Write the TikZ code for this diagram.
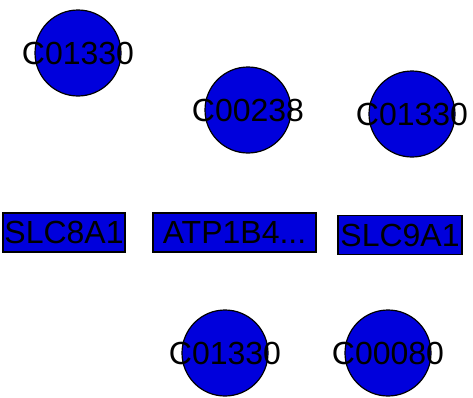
\documentclass[tikz,border=0pt]{standalone}
\usepackage{fontspec}
\setmainfont{Liberation Sans}
\definecolor{nodeblue}{RGB}{0,0,220}

\begin{document}
\begin{tikzpicture}[x=1pt,y=-1pt,
    cpd/.style={circle, draw, line width=1.2pt, fill=nodeblue, minimum size=86pt, inner sep=0pt},
    gene/.style={rectangle, draw, line width=1.2pt, fill=nodeblue, minimum height=39pt, inner sep=0pt},
    every label/.style={font=\fontsize{32}{36}\selectfont, inner sep=0pt},
    font=\fontsize{32}{36}\selectfont]
    \useasboundingbox (0,0) rectangle (473,397);

    % compounds
    \node[cpd, label={center:C01330}] (cpd1) at (78,53) {};
    \node[cpd, label={center:C00238}] (cpd2) at (248,110) {};
    \node[cpd, label={center:C01330}] (cpd3) at (412,114) {};
    \node[cpd, label={center:C01330}] (cpd4) at (225,353) {};
    \node[cpd, label={center:C00080}] (cpd5) at (388,353) {};

    % genes
    \node[gene, minimum width=122pt] (gene1) at (64,232.5) {SLC8A1};
    \node[gene, minimum width=163pt] (gene2) at (234.5,232.5) {ATP1B4...};
    \node[gene, minimum width=124pt] (gene3) at (400,235) {SLC9A1};
\end{tikzpicture}
\end{document}
